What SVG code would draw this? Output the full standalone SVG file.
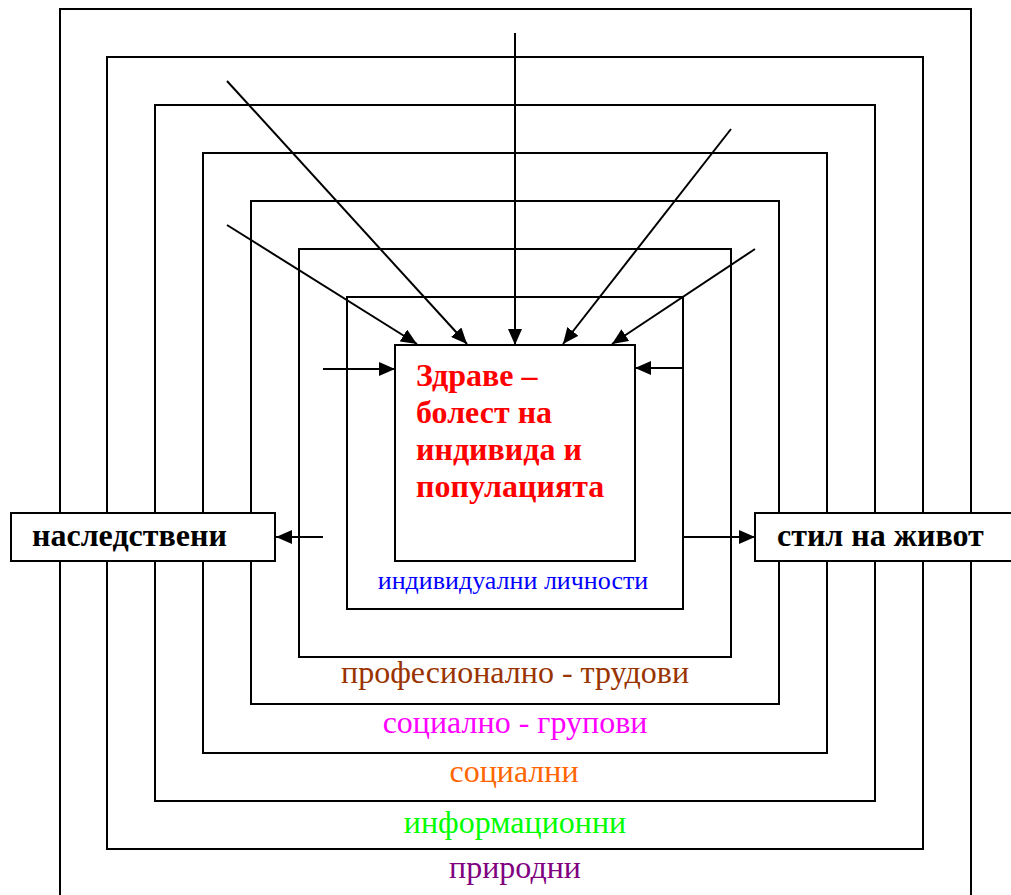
<svg xmlns="http://www.w3.org/2000/svg" width="1011" height="895" viewBox="0 0 1011 895">
<style>
.frame{fill:none;stroke:#000;stroke-width:2}
.box{fill:#fff;stroke:#000;stroke-width:2}
.conn{stroke:#000;stroke-width:2;fill:none}
.lbl{font-family:"Liberation Serif",serif;font-size:32px;font-weight:bold;fill:#000}
.ctr{font-family:"Liberation Serif",serif;font-size:32px;font-weight:bold;fill:#ff0000}
.lvl{font-family:"Liberation Serif",serif;font-size:32px;text-anchor:middle}
</style>
<defs>
<marker id="ah" markerUnits="userSpaceOnUse" markerWidth="16" markerHeight="14" refX="16" refY="7" orient="auto">
<path d="M0,0 L16,7 L0,14 z" fill="#000"/>
</marker>
</defs>
<rect fill="#fff" x="0" y="0" width="1011" height="895"/>
<g id="levels">
<g id="level-prirodni"><rect class="frame" x="60" y="9" width="911" height="900"/><text class="lvl" x="515" y="878" fill="#800080">природни</text></g>
<g id="level-informacionni"><rect class="frame" x="107" y="57" width="816" height="792"/><text class="lvl" x="515" y="833" fill="#00ff00">информационни</text></g>
<g id="level-socialni"><rect class="frame" x="155" y="105" width="720" height="696"/><text class="lvl" x="514" y="782" fill="#ff6600">социални</text></g>
<g id="level-grupovi"><rect class="frame" x="203" y="153" width="624" height="600"/><text class="lvl" x="515" y="733" fill="#ff00ff">социално - групови</text></g>
<g id="level-trudovi"><rect class="frame" x="251" y="201" width="528" height="503"/><text class="lvl" x="515" y="683" fill="#993300">професионално - трудови</text></g>
<g id="level-6"><rect class="frame" x="299" y="249" width="432" height="408"/></g>
<g id="level-lichnosti"><rect class="frame" x="347" y="297" width="336" height="312"/><text class="lvl" x="513" y="589" style="font-size:26px" fill="#0000ff">индивидуални личности</text></g>
</g>
<g id="center">
<rect class="box" x="395" y="345" width="240" height="216"/>
<text class="ctr" x="416" y="386">Здраве –</text>
<text class="ctr" x="416" y="423">болест на</text>
<text class="ctr" x="416" y="460">индивида и</text>
<text class="ctr" x="416" y="497">популацията</text>
</g>
<g id="naslestveni">
<rect class="box" x="11" y="513" width="264" height="48"/>
<text class="lbl" x="32" y="546">наследствени</text>
</g>
<g id="stil">
<rect class="box" x="755" y="513" width="270" height="48"/>
<text class="lbl" x="777" y="546">стил на живот</text>
</g>
<g id="connectors">
<line class="conn" x1="515" y1="33" x2="515" y2="345" marker-end="url(#ah)"/>
<line class="conn" x1="227" y1="81" x2="467" y2="344" marker-end="url(#ah)"/>
<line class="conn" x1="227" y1="225" x2="417" y2="344" marker-end="url(#ah)"/>
<line class="conn" x1="731" y1="129" x2="563" y2="344" marker-end="url(#ah)"/>
<line class="conn" x1="755" y1="249" x2="612" y2="344" marker-end="url(#ah)"/>
<line class="conn" x1="323" y1="369" x2="395" y2="369" marker-end="url(#ah)"/>
<line class="conn" x1="683" y1="368" x2="635" y2="368" marker-end="url(#ah)"/>
<line class="conn" x1="323" y1="537" x2="276" y2="537" marker-end="url(#ah)"/>
<line class="conn" x1="683" y1="537" x2="755" y2="537" marker-end="url(#ah)"/>
</g>
</svg>
